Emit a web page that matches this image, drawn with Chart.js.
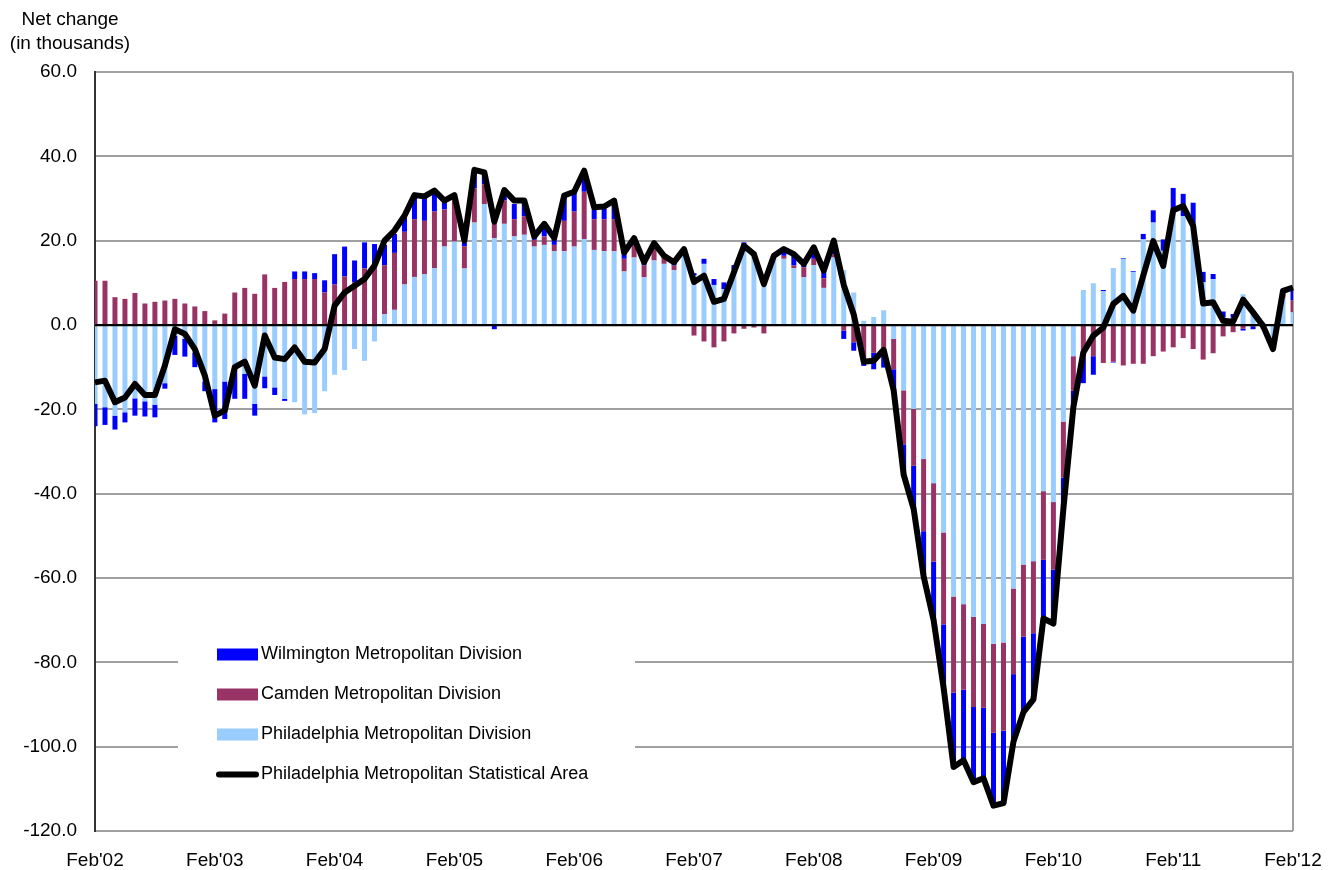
<!DOCTYPE html>
<html>
<head>
<meta charset="utf-8">
<script src="https://cdn.jsdelivr.net/npm/chart.js@4.4.1/dist/chart.umd.min.js"></script>
<style>
  html, body { margin: 0; padding: 0; background: #fff; }
  #wrap { width: 1335px; height: 870px; position: relative; }
</style>
</head>
<body>
<div id="wrap"><canvas id="chart"></canvas></div>
<script>
// Monthly net change, Feb'02 .. Feb'12 (in thousands)
const yearTicks = ["Feb'02", "Feb'03", "Feb'04", "Feb'05", "Feb'06", "Feb'07", "Feb'08", "Feb'09", "Feb'10", "Feb'11", "Feb'12"];
const monthNames = ['Feb', 'Mar', 'Apr', 'May', 'Jun', 'Jul', 'Aug', 'Sep', 'Oct', 'Nov', 'Dec', 'Jan'];

const philadelphiaDiv = [
  -18.7, -19.5, -21.5, -20.7, -17.4, -18.1, -18.9, -13.8, -2.5, -3.3, -6.5, -13.4,
  -15.2, -13.4, -9.8, -11.6, -18.7, -12.2, -14.8, -17.5, -18.3, -21.2, -20.9, -15.7,
  -11.8, -10.7, -5.7, -8.5, -3.9, 2.6, 3.6, 9.6, 11.4, 12.1, 13.5, 18.6,
  19.8, 13.4, 24.3, 28.7, 20.6, 24.0, 21.0, 21.4, 18.6, 19.0, 17.5, 17.5,
  18.6, 20.4, 17.8, 17.5, 17.5, 12.7, 16.0, 11.3, 15.3, 14.5, 13.0, 17.6,
  11.7, 14.5, 9.5, 8.5, 13.0, 19.0, 16.4, 11.0, 16.0, 15.7, 13.5, 11.3,
  14.2, 8.8, 16.0, 13.0, 7.7, 1.0, 1.9, 3.5, -3.3, -15.5, -19.9, -31.8,
  -37.5, -49.2, -64.4, -66.2, -69.2, -70.9, -75.6, -75.3, -62.5, -56.8, -56.0, -39.4,
  -42.0, -22.9, -7.4, 8.3, 9.9, 8.0, 13.5, 15.6, 12.6, 20.3, 24.3, 17.6,
  27.4, 25.8, 23.3, 10.2, 10.9, 1.8, 1.7, 7.3, 3.0, 0.6, -3.0, 6.5,
  3.0
];
const camdenDiv = [
  10.5, 10.5, 6.6, 6.2, 7.6, 5.1, 5.5, 5.8, 6.2, 5.1, 4.4, 3.3,
  1.1, 2.7, 7.7, 8.8, 7.4, 12.0, 8.8, 10.2, 10.9, 10.9, 10.9, 7.7,
  9.6, 11.5, 10.1, 13.4, 13.9, 11.6, 13.5, 12.5, 13.7, 12.6, 13.4, 8.8,
  10.5, 5.3, 8.1, 4.7, 4.5, 5.5, 4.1, 4.4, 1.6, 2.0, 1.5, 7.2,
  8.3, 11.2, 7.3, 7.6, 7.6, 3.0, 2.8, 2.8, 2.7, 1.8, 1.1, 0.0,
  -2.5, -3.9, -5.3, -3.9, -2.0, -0.9, -0.6, -2.0, 0.2, 0.7, 0.6, 2.4,
  1.5, 2.3, 0.8, -1.3, -4.1, -8.5, -6.6, -5.5, -7.2, -12.8, -13.5, -17.1,
  -18.6, -21.8, -22.8, -20.3, -21.4, -19.9, -21.1, -20.9, -20.3, -17.1, -17.1, -16.3,
  -16.0, -13.3, -8.2, -7.8, -7.4, -9.0, -8.7, -9.6, -9.2, -9.2, -7.4, -6.3,
  -5.3, -3.1, -5.7, -8.2, -6.7, -2.7, -1.7, -0.9, -0.3, -0.9, -1.5, 1.0,
  2.8
];
const wilmingtonDiv = [
  -5.3, -4.2, -3.3, -2.4, -4.1, -3.6, -3.0, -1.3, -4.6, -4.2, -3.5, -2.3,
  -7.9, -8.9, -7.7, -5.9, -2.8, -2.8, -1.8, -0.5, 1.8, 1.8, 1.4, 2.9,
  7.2, 7.1, 5.2, 6.2, 5.3, 4.8, 4.5, 3.8, 5.2, 5.6, 4.2, 2.1,
  0.5, 0.9, 4.0, 2.8, -1.0, 2.3, 3.6, 3.2, 0.8, 1.9, 1.4, 5.6,
  4.6, 4.5, 2.4, 2.6, 4.0, 1.5, 1.2, 0.9, 0.8, 0.3, 0.6, 0.4,
  0.6, 1.2, 1.4, 1.6, 1.2, 0.6, 0.8, 0.7, 0.4, 1.2, 2.4, 0.6,
  2.3, 1.6, 2.7, -2.0, -2.0, -1.2, -3.9, -4.6, -5.1, -7.2, -10.2, -10.7,
  -14.0, -15.0, -17.8, -16.4, -17.9, -16.4, -17.8, -17.4, -16.0, -17.7, -15.6, -13.9,
  -12.8, -7.4, -3.9, -6.0, -4.4, 0.3, -0.2, 0.2, 0.2, 1.3, 2.9, 2.7,
  5.1, 5.3, 5.7, 2.4, 1.2, 1.4, 0.9, -0.4, -0.7, 0.0, -0.5, 0.5,
  2.8
];
const statisticalArea = [
  -13.6, -13.2, -18.3, -17.2, -14.0, -16.6, -16.6, -9.6, -1.0, -2.1, -5.7, -12.0,
  -21.5, -20.3, -10.0, -8.7, -14.4, -2.5, -7.7, -8.1, -5.3, -8.7, -8.9, -5.7,
  4.6, 7.7, 9.3, 10.9, 14.1, 20.0, 22.4, 25.9, 30.8, 30.5, 31.9, 29.5,
  30.8, 20.0, 36.8, 36.2, 24.5, 32.0, 29.5, 29.5, 21.0, 24.0, 20.6, 30.7,
  31.6, 36.6, 27.9, 28.1, 29.5, 17.2, 20.6, 14.9, 19.4, 16.4, 14.9, 18.0,
  10.2, 11.7, 5.5, 6.2, 12.5, 18.8, 16.8, 9.7, 16.4, 18.0, 16.8, 14.5,
  18.4, 12.9, 20.0, 9.5, 2.5, -8.7, -8.5, -5.9, -15.5, -35.5, -43.6, -59.6,
  -70.0, -86.0, -104.8, -103.2, -108.4, -107.5, -114.0, -113.4, -98.8, -91.8, -88.8, -69.6,
  -70.8, -43.6, -19.5, -6.5, -2.5, -0.6, 5.0, 6.9, 3.4, 11.7, 19.9, 14.0,
  27.2, 28.2, 23.5, 5.1, 5.4, 1.0, 0.8, 6.0, 3.0, -0.2, -5.7, 8.1,
  8.9
];

// category labels: one per month, only every Feb is shown on the axis
const labels = [];
yearTicks.forEach((t, y) => {
  const yy = t.slice(-2);
  if (y === yearTicks.length - 1) { labels.push(t); return; }
  monthNames.forEach((m, k) => {
    const yr = k === 11 ? String(Number(yy) + 1).padStart(2, '0') : yy;
    labels.push(m + "'" + yr);
  });
});

const FONT = '"Liberation Sans", Arial, Helvetica, sans-serif';
Chart.defaults.font.family = FONT;
Chart.defaults.font.size = 19;
Chart.defaults.color = '#000';

const GRID = '#a0a0a0';

// title above the value axis
const axisTitle = {
  id: 'axisTitle',
  afterDraw(chart) {
    const ctx = chart.ctx;
    ctx.save();
    ctx.fillStyle = '#000';
    ctx.font = '19px ' + FONT;
    ctx.textAlign = 'center';
    ctx.textBaseline = 'middle';
    ctx.fillText('Net change', 70, 20);
    ctx.fillText('(in thousands)', 70, 44);
    ctx.restore();
  }
};

// zero line sits on top of the bars
const zeroLine = {
  id: 'zeroLine',
  afterDatasetsDraw(chart) {
    const { ctx, chartArea, scales } = chart;
    const y = Math.round(scales.y.getPixelForValue(0)) + 0.5;
    ctx.save();
    ctx.strokeStyle = '#000';
    ctx.lineWidth = 1.5;
    ctx.beginPath();
    ctx.moveTo(chartArea.left, y);
    ctx.lineTo(chartArea.right, y);
    ctx.stroke();
    ctx.restore();
  }
};

// legend box placed inside the plot, over the grid lines
const insideLegend = {
  id: 'insideLegend',
  afterDatasetsDraw(chart) {
    const { ctx, chartArea } = chart;
    const x0 = chartArea.left + 83, x1 = chartArea.left + 540;
    const top = chartArea.top + 560, bottom = chartArea.top + 718;
    ctx.save();
    ctx.fillStyle = '#fff';
    ctx.fillRect(x0, top, x1 - x0, bottom - top);

    const items = [2, 1, 0, 3].map(i => chart.data.datasets[i]);
    const sx = chartArea.left + 122;
    ctx.font = '18px ' + FONT;
    ctx.textBaseline = 'middle';
    ctx.textAlign = 'left';
    items.forEach((ds, k) => {
      const cy = chartArea.top + 582.5 + k * 40;
      if (ds.type === 'line') {
        ctx.strokeStyle = ds.borderColor;
        ctx.lineWidth = 6;
        ctx.lineCap = 'round';
        ctx.beginPath();
        ctx.moveTo(sx + 2, cy);
        ctx.lineTo(sx + 39, cy);
        ctx.stroke();
      } else {
        ctx.fillStyle = ds.backgroundColor;
        ctx.fillRect(sx, cy - 6, 41, 12);
      }
      ctx.fillStyle = '#000';
      ctx.fillText(ds.label, sx + 44, cy);
    });
    ctx.restore();
  }
};

new Chart(document.getElementById('chart'), {
  type: 'bar',
  data: {
    labels,
    datasets: [
      {
        label: 'Philadelphia Metropolitan Division',
        data: philadelphiaDiv,
        backgroundColor: '#99ccff',
        stack: 'div',
        order: 1
      },
      {
        label: 'Camden Metropolitan Division',
        data: camdenDiv,
        backgroundColor: '#993366',
        stack: 'div',
        order: 1
      },
      {
        label: 'Wilmington Metropolitan Division',
        data: wilmingtonDiv,
        backgroundColor: '#0000ff',
        stack: 'div',
        order: 1
      },
      {
        type: 'line',
        label: 'Philadelphia Metropolitan Statistical Area',
        data: statisticalArea,
        borderColor: '#000',
        backgroundColor: '#000',
        borderWidth: 6,
        borderJoinStyle: 'round',
        pointRadius: 0,
        tension: 0,
        stack: 'msa',
        order: 0
      }
    ]
  },
  options: {
    responsive: true,
    maintainAspectRatio: false,
    animation: false,
    layout: { padding: { top: 72, right: 42, left: 0, bottom: 0 } },
    datasets: {
      bar: { barPercentage: 0.5, categoryPercentage: 1.0 }
    },
    plugins: {
      legend: { display: false },
      tooltip: { enabled: false }
    },
    scales: {
      x: {
        stacked: true,
        offset: false,
        grid: {
          offset: false,
          drawTicks: false,
          lineWidth: 2,
          color: ctx => ctx.index === labels.length - 1 ? GRID : 'rgba(0,0,0,0)'
        },
        border: { display: false },
        ticks: {
          autoSkip: false,
          maxRotation: 0,
          padding: 18,
          font: { size: 19 },
          callback: (v, i) => i % 12 === 0 ? labels[i] : ''
        },
        afterFit(scale) {
          scale.height = 39;
          scale.paddingLeft = 0;
          scale.paddingRight = 0;
        }
      },
      y: {
        stacked: true,
        min: -120,
        max: 60,
        grid: {
          drawTicks: false,
          lineWidth: 2,
          color: ctx => ctx.tick && ctx.tick.value === 0 ? '#000' : GRID
        },
        border: { display: true, color: '#333', width: 2 },
        ticks: {
          stepSize: 20,
          padding: 18,
          font: { size: 19 },
          callback: v => v.toFixed(1)
        },
        afterFit(scale) { scale.width = 95; }
      }
    }
  },
  plugins: [axisTitle, zeroLine, insideLegend]
});
</script>
</body>
</html>
